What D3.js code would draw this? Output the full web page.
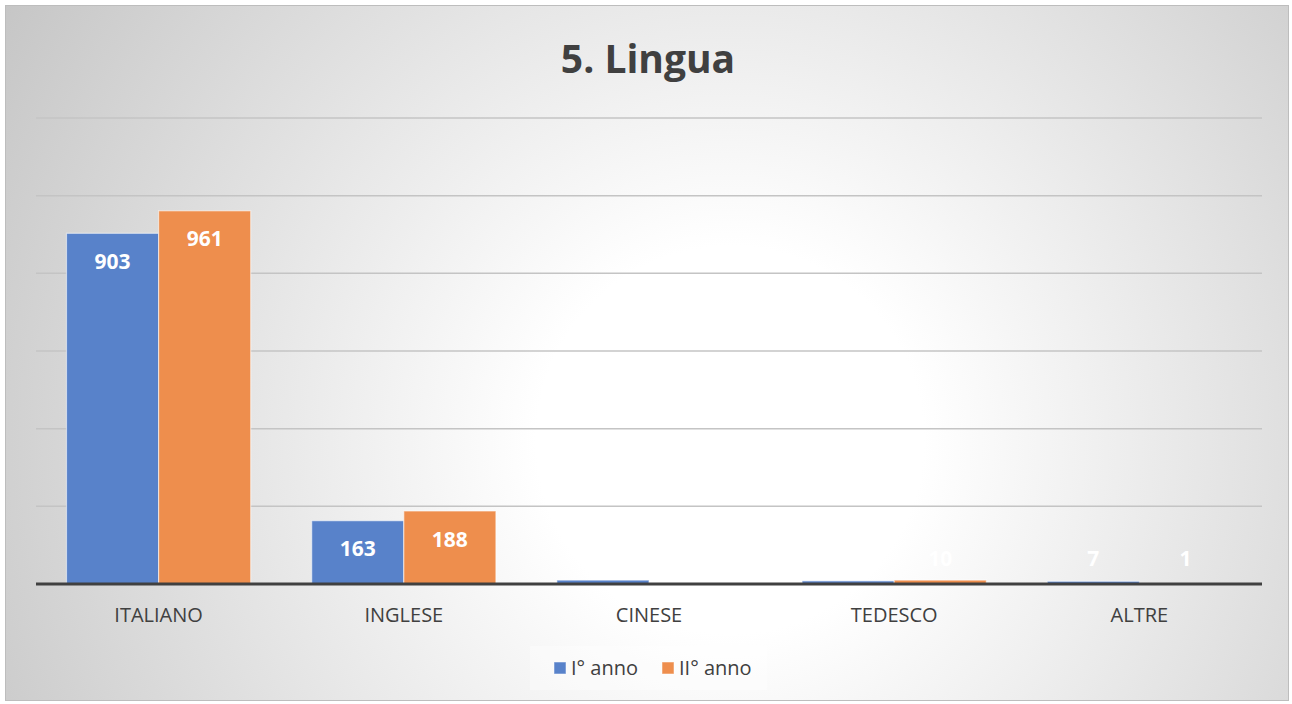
<!DOCTYPE html>
<html>
<head>
<meta charset="utf-8">
<script src="https://cdn.jsdelivr.net/npm/d3@7"></script>
<style>
  body { margin: 0; background: #fff; }
  text { font-family: "Open Sans", "Noto Sans", sans-serif; }
</style>
</head>
<body>
<script>
// dati
var categories = ["ITALIANO", "INGLESE", "CINESE", "TEDESCO", "ALTRE"];
var series = ["I° anno", "II° anno"];
var primoAnno = [903, 163, 10, 8, 7];
var secondoAnno = [961, 188, 2, 10, 1];
var yTicks = [200, 400, 600, 800, 1000, 1200];
var colors = ["#5882ca", "#ee8e4d"];

var width = 1292,
    height = 704;

var svg = d3.select("body").append("svg")
    .attr("width", width)
    .attr("height", height);

// sfondo con gradiente radiale
var defs = svg.append("defs");
var grad = defs.append("radialGradient")
    .attr("id", "bg")
    .attr("gradientUnits", "userSpaceOnUse")
    .attr("cx", 730).attr("cy", 440).attr("r", 880);
grad.append("stop").attr("offset", "0").attr("stop-color", "#ffffff");
grad.append("stop").attr("offset", "0.22").attr("stop-color", "#ffffff");
grad.append("stop").attr("offset", "1").attr("stop-color", "#c3c3c3");

svg.append("rect")
    .attr("x", 5.5).attr("y", 5.5)
    .attr("width", 1283).attr("height", 695)
    .attr("fill", "url(#bg)")
    .attr("stroke", "#bdbdbd")
    .attr("stroke-width", 1);

var x0 = d3.scaleBand()
    .domain(categories)
    .range([36, 1262]);

var x1 = d3.scaleBand()
    .domain(series)
    .range([30.5, x0.bandwidth() - 30.5]);

var y = d3.scaleLinear()
    .domain([0, 1200])
    .range([584, 118]);

var g = svg.append("g");

// griglia
g.selectAll("line.grid")
  .data(yTicks)
  .enter().append("line")
    .attr("class", "grid")
    .attr("x1", 36).attr("x2", 1262)
    .attr("y1", function(d) { return y(d); })
    .attr("y2", function(d) { return y(d); })
    .attr("stroke", "#c4c4c4")
    .attr("stroke-width", 1.5);

var table = categories.map(function(c, i) {
    return { cat: c, values: [primoAnno[i], secondoAnno[i]] };
});

var groups = g.selectAll("g.cat")
  .data(table)
  .enter().append("g")
    .attr("class", "cat")
    .attr("transform", function(d) { return "translate(" + x0(d.cat) + ",0)"; });

groups.selectAll("rect")
  .data(function(d) { return d.values.map(function(v, j) { return { s: series[j], v: v, j: j }; }); })
  .enter().append("rect")
    .attr("x", function(d) { return x1(d.s); })
    .attr("y", function(d) { return y(d.v); })
    .attr("width", x1.bandwidth())
    .attr("height", function(d) { return y(0) - y(d.v); })
    .attr("fill", function(d) { return colors[d.j]; })
    .attr("stroke", "rgba(255,255,255,0.55)")
    .attr("stroke-width", 1.2);

groups.selectAll("text.val")
  .data(function(d) { return d.values.map(function(v, j) { return { s: series[j], v: v, j: j }; }); })
  .enter().append("text")
    .attr("class", "val")
    .attr("x", function(d) { return x1(d.s) + x1.bandwidth() / 2; })
    .attr("y", function(d) { return Math.min(y(d.v) + 28, 558); })
    .attr("dy", "0.36em")
    .attr("text-anchor", "middle")
    .attr("fill", "#ffffff")
    .attr("font-size", 21)
    .attr("font-weight", "bold")
    .text(function(d) { return d.v; });

// asse
g.append("line")
    .attr("x1", 36).attr("x2", 1262)
    .attr("y1", y(0)).attr("y2", y(0))
    .attr("stroke", "#404040")
    .attr("stroke-width", 3);

g.append("g")
    .attr("transform", "translate(0," + (y(0) + 38) + ")")
    .call(d3.axisBottom(x0).tickSize(0).tickPadding(0))
    .call(function(a) { a.select(".domain").remove(); })
    .selectAll("text")
    .attr("fill", "#404040")
    .attr("font-size", 20)
    .attr("dy", 0)
    .style("font-family", "'Open Sans', sans-serif");

// titolo
svg.append("text")
    .attr("x", 648)
    .attr("y", 73)
    .attr("text-anchor", "middle")
    .attr("fill", "#404040")
    .attr("font-size", 39)
    .attr("font-weight", "bold")
    .text("5. Lingua");

// legenda
var legend = svg.append("g");
legend.append("rect")
    .attr("x", 530).attr("y", 646)
    .attr("width", 237).attr("height", 44)
    .attr("fill", "rgba(255,255,255,0.35)");

var legX = [554, 662];
series.forEach(function(s, i) {
    legend.append("rect")
        .attr("x", legX[i]).attr("y", 662)
        .attr("width", 12).attr("height", 12)
        .attr("fill", colors[i])
        .attr("stroke", "rgba(255,255,255,0.5)");
    legend.append("text")
        .attr("x", legX[i] + 17)
        .attr("y", 675)
        .attr("fill", "#404040")
        .attr("font-size", 20)
        .text(s);
});
</script>
</body>
</html>
